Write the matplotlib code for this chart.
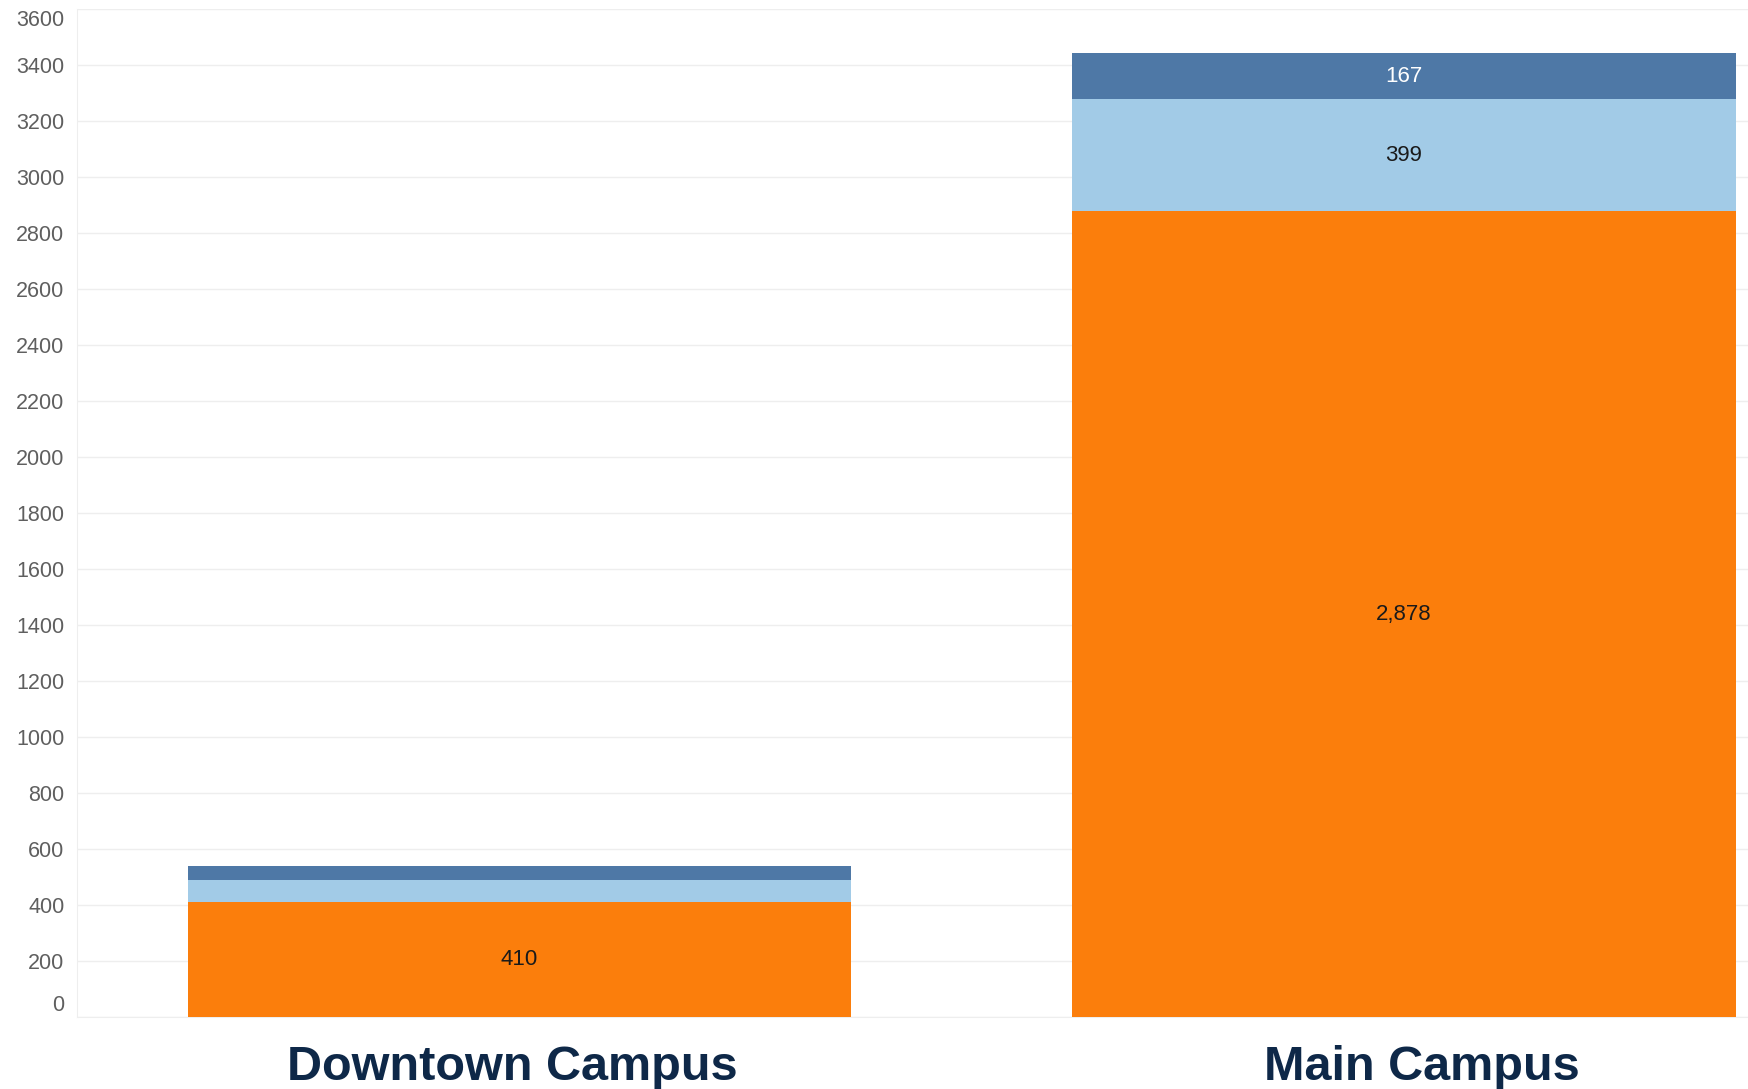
import matplotlib.pyplot as plt
import matplotlib.transforms as mtransforms
import numpy as np

campuses = ["Downtown Campus", "Main Campus"]
seg_bottom = [410, 2878]   # orange
seg_middle = [78, 399]     # light blue
seg_top = [52, 167]        # dark blue
# which segments get a value label
show_bottom = [True, True]
show_middle = [False, True]
show_top = [False, True]

c_orange = "#FB7E0C"
c_light = "#A2CBE7"
c_dark = "#4E78A6"

plt.rcParams["font.family"] = ["Liberation Sans", "DejaVu Sans"]

fig = plt.figure(figsize=(17.49, 10.89), dpi=100)
ax = fig.add_axes([0.044, 0.0661, 0.956, 0.9256])

x = np.arange(len(campuses))
w = 0.75
ax.bar(x, seg_bottom, w, color=c_orange, zorder=3)
ax.bar(x, seg_middle, w, bottom=seg_bottom, color=c_light, zorder=3)
base3 = np.array(seg_bottom) + np.array(seg_middle)
ax.bar(x, seg_top, w, bottom=base3, color=c_dark, zorder=3)

def fmt(v):
    return "{:,}".format(v)

for i in range(len(campuses)):
    if show_bottom[i]:
        ax.text(x[i], seg_bottom[i] / 2, fmt(seg_bottom[i]), ha="center", va="center",
                fontsize=16, color="#1a1a1a", zorder=4)
    if show_middle[i]:
        ax.text(x[i], seg_bottom[i] + seg_middle[i] / 2, fmt(seg_middle[i]), ha="center",
                va="center", fontsize=16, color="#1a1a1a", zorder=4)
    if show_top[i]:
        ax.text(x[i], base3[i] + seg_top[i] / 2, fmt(seg_top[i]), ha="center", va="center",
                fontsize=16, color="white", zorder=4)

ax.set_xlim(-0.5, 1.39)
ax.set_ylim(0, 3600)
ax.set_yticks(np.arange(0, 3601, 200))
ax.tick_params(axis="y", length=0, pad=9, labelsize=15.5, labelcolor="#5f5f5f")
ax.grid(axis="y", color="#EEEEEE", linewidth=1, zorder=0)

ax.set_xticks(x)
ax.set_xticklabels(campuses, fontsize=35, fontweight="bold", color="#0E2848")
ax.tick_params(axis="x", length=0, pad=20)

for s in ["top", "right"]:
    ax.spines[s].set_visible(False)
ax.spines["left"].set_color("#EEEEEE")
ax.spines["bottom"].set_color("#EEEEEE")

# end labels are pulled inside the plot area in the original
labels = ax.get_yticklabels()
labels[0].set_transform(labels[0].get_transform() +
                        mtransforms.ScaledTranslation(0, 0.14, fig.dpi_scale_trans))
labels[-1].set_transform(labels[-1].get_transform() +
                         mtransforms.ScaledTranslation(0, -0.09, fig.dpi_scale_trans))

# category labels sit a little off the bar centres
xl = ax.get_xticklabels()
xl[0].set_transform(xl[0].get_transform() +
                    mtransforms.ScaledTranslation(-0.07, 0, fig.dpi_scale_trans))
xl[1].set_transform(xl[1].get_transform() +
                    mtransforms.ScaledTranslation(0.18, 0, fig.dpi_scale_trans))

fig.savefig("out.png", dpi=100)
